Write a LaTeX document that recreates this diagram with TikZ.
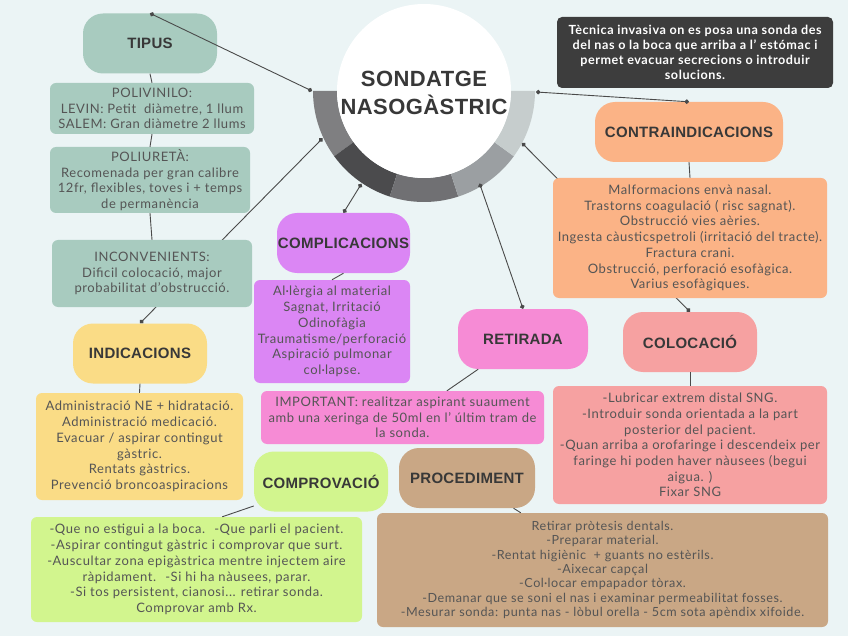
\documentclass[tikz,border=0pt]{standalone}
\usepackage{fontspec}
\setmainfont{Lato}[LetterSpace=4.5]
\newfontfamily\headfam{Liberation Sans}[LetterSpace=2]
\usetikzlibrary{arrows.meta,calc}
\definecolor{paper}{HTML}{EBF4F5}
\definecolor{sage}{HTML}{A8CBBF}
\definecolor{peach}{HTML}{FBB386}
\definecolor{lilac}{HTML}{DB86F4}
\definecolor{butter}{HTML}{FADC86}
\definecolor{rosepink}{HTML}{F68BD5}
\definecolor{salmon}{HTML}{F6A1A1}
\definecolor{lime}{HTML}{D2F58E}
\definecolor{tan}{HTML}{C9A785}
\definecolor{slate}{HTML}{3D3D3D}
\definecolor{ringA}{HTML}{7F7F81}
\definecolor{ringB}{HTML}{4B4B4D}
\definecolor{ringC}{HTML}{707073}
\definecolor{ringD}{HTML}{9B9FA2}
\definecolor{ringE}{HTML}{C6CDCD}
\definecolor{headtext}{HTML}{383838}
\definecolor{bodytext}{HTML}{555555}
\definecolor{linkgray}{HTML}{4A4A4A}
\pgfdeclarelayer{paperlayer}
\pgfdeclarelayer{behind}
\pgfsetlayers{paperlayer,behind,main}
\tikzset{
  topic/.style={rounded corners=20pt, minimum width=134pt, minimum height=60pt, inner sep=0pt,
    text=headtext, font=\headfam\bfseries\fontsize{15}{17}\selectfont},
  note/.style={rounded corners=6pt, inner sep=0pt, align=center, text=bodytext,
    font=\fontsize{13}{15.7}\selectfont},
  link/.style={draw=linkgray, line width=0.9pt},
  dotlink/.style={link, {Circle[length=4.5pt]}-{Circle[length=4.5pt]}},
}

\begin{document}
\begin{tikzpicture}[x=1pt, y=-1pt]
\begin{pgfonlayer}{paperlayer}
\fill[paper] (0,0) rectangle (848,636);
\end{pgfonlayer}
\useasboundingbox (0,0) rectangle (848,636);

% central hub
\coordinate (hub) at (424,91);
\begin{pgfonlayer}{behind}
\foreach \a/\b/\c in {144/180/ringA,108/144/ringB,72/108/ringC,36/72/ringD,0/36/ringE} {
  \fill[\c] ($(hub)+(\a:111)$) arc[start angle=\a, end angle=\b, radius=111]
    -- ($(hub)+(\b:87)$) arc[start angle=\b, end angle=\a, radius=87] -- cycle;
}
\fill[white] (hub) circle[radius=87];
\end{pgfonlayer}
\node[font=\headfam\bfseries\fontsize{22}{28}\selectfont, text=headtext, align=center] (title) at (424,93) {SONDATGE\\NASOGÀSTRIC};
\coordinate (hTip) at ($(hub)+(180:112)$);
\coordinate (hInd) at ($(hub)+(155:112)$);
\coordinate (hCom) at ($(hub)+(124:112)$);
\coordinate (hRet) at ($(hub)+(59:108)$);
\coordinate (hCol) at ($(hub)+(28:111)$);
\coordinate (hCon) at ($(hub)+(0.5:112)$);

% left branch
\node[topic, fill=sage] (tipus) at (150,43.5) {TIPUS};
\node[note, fill=sage, minimum width=204pt, minimum height=51pt] (poli) at (152,108.5) {POLIVINILO:\\LEVIN: Petit~ diàmetre, 1 llum\\SALEM: Gran diàmetre 2 llums};
\node[note, fill=sage, minimum width=200pt, minimum height=66pt] (poliu) at (150,180) {POLIURETÀ:\\Recomenada per gran calibre\\12fr, flexibles, toves i + temps\\de permanència};
\node[note, fill=sage, minimum width=200pt, minimum height=67pt] (incon) at (152,273.5) {INCONVENIENTS:\\Dificil colocació, major\\probabilitat d’obstrucció.};
\node[topic, fill=butter] (indic) at (140,353.5) {INDICACIONS};
\node[note, fill=butter, minimum width=207pt, minimum height=107pt] (indicbody) at (139.5,446.5) {Administració NE + hidratació.\\Administració medicació.\\Evacuar / aspirar contingut\\gàstric.\\Rentats gàstrics.\\Prevenció broncoaspiracions};

% middle branch
\node[topic, fill=lilac, minimum width=133pt] (compl) at (343.5,243) {COMPLICACIONS};
\node[note, fill=lilac, minimum width=156pt, minimum height=103pt] (complbody) at (332,331.5) {Al·lèrgia al material\\Sagnat, Irritació\\Odinofàgia\\Traumatisme/perforació\\Aspiració pulmonar\\col·lapse.};
\node[topic, fill=rosepink, minimum width=130pt] (retir) at (523,339) {RETIRADA};
\node[note, fill=rosepink, minimum width=283pt, minimum height=53pt] (important) at (402.5,417.5) {IMPORTANT: realitzar aspirant suaument\\amb una xeringa de 50ml en l' últim tram de\\la sonda.};
\node[topic, fill=lime] (comprov) at (321,481.5) {COMPROVACIÓ};
\node[note, fill=lime, minimum width=331pt, minimum height=105pt] (comprbody) at (196.5,569.5) {-Que no estigui a la boca.~ -Que parli el pacient.\\-Aspirar contingut gàstric i comprovar que surt.\\-Auscultar zona epigàstrica mentre injectem aire\\ràpidament.~ -Si hi ha nàusees, parar.\\-Si tos persistent, cianosi... retirar sonda.\\Comprovar amb Rx.};
\node[topic, fill=tan, minimum width=136pt] (proced) at (467,478) {PROCEDIMENT};
\node[note, fill=tan, minimum width=451pt, minimum height=114pt, font=\fontsize{12.6}{14.3}\selectfont] (procbody) at (602.5,570) {Retirar pròtesis dentals.\\-Preparar material.\\-Rentat higiènic~ + guants no estèrils.\\-Aixecar capçal\\-Col·locar empapador tòrax.\\-Demanar que se soni el nas i examinar permeabilitat fosses.\\-Mesurar sonda: punta nas - lòbul orella - 5cm sota apèndix xifoide.};

% right branch
\node[note, fill=slate, text=white, rounded corners=5pt, minimum width=276pt, minimum height=71pt, font=\bfseries\fontsize{12.6}{15}\selectfont] (about) at (695,52.5) {Tècnica invasiva on es posa una sonda des\\del nas o la boca que arriba a l' estómac i\\permet evacuar secrecions o introduir\\solucions.};
\node[topic, fill=peach, minimum width=188pt] (contra) at (689,132) {CONTRAINDICACIONS};
\node[note, fill=peach, minimum width=274pt, minimum height=120pt] (contrabody) at (690,238) {Malformacions envà nasal.\\Trastorns coagulació ( risc sagnat).\\Obstrucció vies aèries.\\Ingesta càusticspetroli (irritació del tracte).\\Fractura crani.\\Obstrucció, perforació esofàgica.\\Varius esofàgiques.};
\node[topic, fill=salmon] (coloc) at (690,342) {COLOCACIÓ};
\node[note, fill=salmon, minimum width=274pt, minimum height=118pt] (colocbody) at (690,445) {-Lubricar extrem distal SNG.\\-Introduir sonda orientada a la part\\posterior del pacient.\\-Quan arriba a orofaringe i descendeix per\\faringe hi poden haver nàusees (begui\\aigua. )\\Fixar SNG};

% connectors
\begin{pgfonlayer}{behind}
\draw[dotlink] (hInd) -- (indic.north);
\draw[dotlink] (hCol) -- (coloc.north);
\end{pgfonlayer}
\draw[dotlink] (tipus.north) -- (hTip);
\draw[dotlink] (hCom) -- (compl.north);
\draw[dotlink] (hRet) -- (retir.north);
\draw[dotlink] (hCon) -- (contra.north);
\draw[link] (tipus.south) -- (poli.north);
\draw[link] (poli.south) -- (poliu.north);
\draw[link] (poliu.south) -- (incon.north);
\draw[link] (indic.south) -- (indicbody.north);
\draw[link] (compl.south) -- (complbody.north);
\draw[link] (retir.214) -- (important.31);
\draw[link] (contra.south) -- (contrabody.north);
\draw[link] (coloc.south) -- (colocbody.north);
\draw[link] (comprov.200) -- (comprbody.64);
\draw[link] (proced.-33) -- (procbody.145);
\end{tikzpicture}
\end{document}
